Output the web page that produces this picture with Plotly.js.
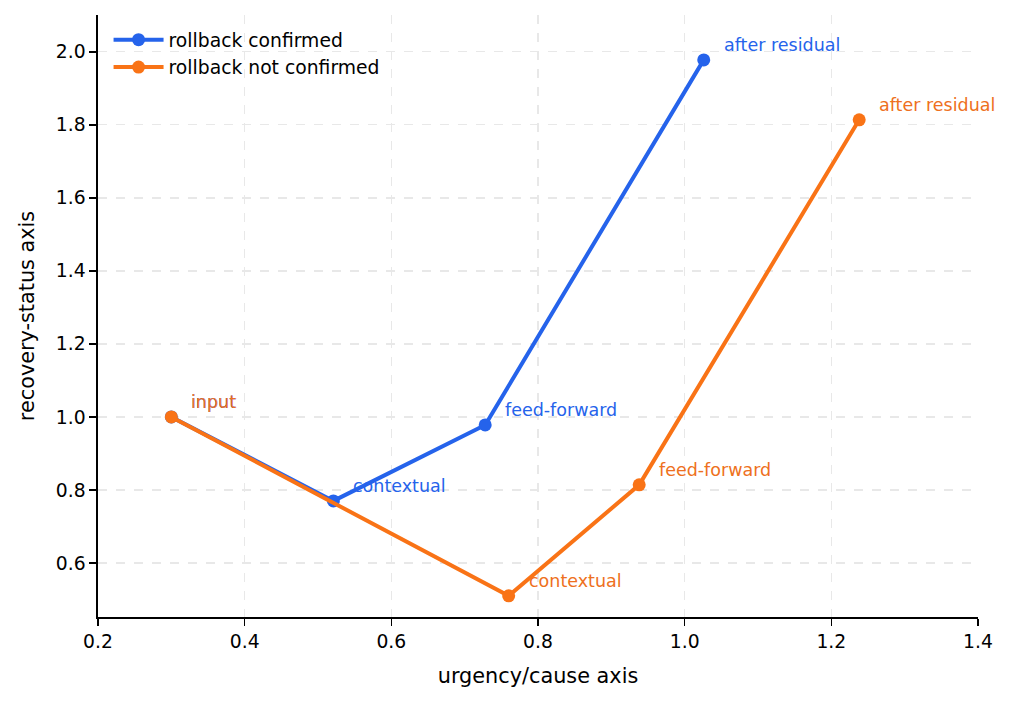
<!DOCTYPE html>
<html>
<head>
<meta charset="utf-8">
<script src="https://cdn.plot.ly/plotly-3.0.1.min.js"></script>
<style>
  html, body { margin: 0; padding: 0; background: #fff; }
  #chart { width: 1011px; height: 703px; }
</style>
</head>
<body>
<div id="chart"></div>
<script>
// Stage names along each trajectory
const stages = ["input", "contextual", "feed-forward", "after residual"];

// Trajectory coordinates per series
const confirmedX = [0.300, 0.521, 0.728, 1.026];
const confirmedY = [1.000, 0.770, 0.978, 1.978];
const notConfirmedX = [0.300, 0.760, 0.938, 1.238];
const notConfirmedY = [1.000, 0.510, 0.814, 1.814];

const seriesNames = ["rollback confirmed", "rollback not confirmed"];
const colors = ["#2563EB", "#F97316"];

const font = "DejaVu Sans, Verdana, sans-serif";

function trace(x, y, name, color) {
  return {
    x: x, y: y, name: name, type: "scatter", mode: "lines+markers",
    line: { color: color, width: 4 },
    marker: { color: color, size: 13 },
    hoverinfo: "skip"
  };
}

function labels(x, y, color) {
  return stages.map((s, i) => ({
    x: x[i], y: y[i], text: s, showarrow: false,
    xanchor: "left", yanchor: "middle", xshift: 18, yshift: 15,
    font: { family: font, size: 17.5, color: color }
  }));
}

const data = [
  trace(confirmedX, confirmedY, seriesNames[0], colors[0]),
  trace(notConfirmedX, notConfirmedY, seriesNames[1], colors[1])
];

const gridStyle = { showgrid: true, gridcolor: "#e8e8e8", griddash: "dash", gridwidth: 1.2 };

const layout = {
  width: 1011, height: 703,
  margin: { l: 98, r: 33, t: 15, b: 86 },
  paper_bgcolor: "#fff", plot_bgcolor: "#fff",
  font: { family: font, size: 18.75, color: "#000" },
  showlegend: true,
  legend: {
    x: 0.012, y: 0.99, xanchor: "left", yanchor: "top",
    bgcolor: "rgba(255,255,255,0)", font: { family: font, size: 18.75, color: "#000" },
    itemwidth: 50, tracegroupgap: 0
  },
  xaxis: Object.assign({
    range: [0.2, 1.4], dtick: 0.2, tickformat: ".1f",
    showline: true, linecolor: "#000", linewidth: 1.6,
    ticks: "outside", ticklen: 7, tickwidth: 1.6, tickcolor: "#000", zeroline: false,
    title: { text: "urgency/cause axis", font: { family: font, size: 20.8 }, standoff: 17 },
    tickfont: { family: font, size: 18.75 }
  }, gridStyle),
  yaxis: Object.assign({
    range: [0.452, 2.101], dtick: 0.2, tick0: 0, tickformat: ".1f",
    showline: true, linecolor: "#000", linewidth: 1.6,
    ticks: "outside", ticklen: 7, tickwidth: 1.6, tickcolor: "#000", zeroline: false,
    title: { text: "recovery-status axis", font: { family: font, size: 20.8 }, standoff: 15 },
    tickfont: { family: font, size: 18.75 }
  }, gridStyle),
  annotations: labels(confirmedX, confirmedY, colors[0]).concat(labels(notConfirmedX, notConfirmedY, "#EE7020"))
};

Plotly.newPlot("chart", data, layout, { displayModeBar: false, staticPlot: true });
</script>
</body>
</html>
